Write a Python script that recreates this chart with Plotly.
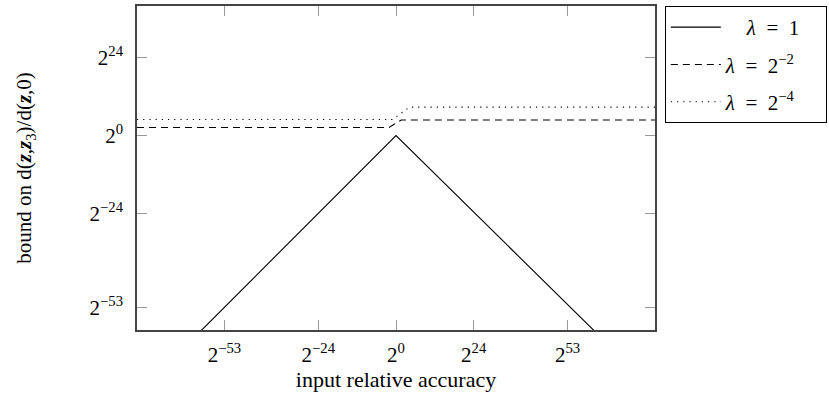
import math
import plotly.graph_objects as go

# ---- data (base-2 exponents) ----
x_lam1 = [-62, 0, 62]
y_lam1 = [-62, 0, -61]

x_lam2 = [-80, -2.2, 1.6, 80]
y_lam2 = [2.5, 2.5, 4.8, 4.8]

x_lam4 = [-80, -1.1, 4.2, 80]
y_lam4 = [4.95, 4.95, 8.8, 8.8]

tick_exps = [-53, -24, 0, 24, 53]
ytick_exps = [-53, -24, 0, 24]

SP = "\u2002"
PAD = "\u00a0" * 4
names = ["\u2003<i>λ</i>" + SP + "=" + SP + "1" + PAD,
         "<i>λ</i>" + SP + "=" + SP + "2<sup>−2</sup>" + PAD,
         "<i>λ</i>" + SP + "=" + SP + "2<sup>−4</sup>" + PAD]

def p2(lst):
    return [2.0 ** e for e in lst]

def lbl(e):
    return "2<sup>%s</sup>" % (str(e).replace("-", "−"))

FONT = "Liberation Serif"
fig = go.Figure()
fig.add_trace(go.Scatter(x=p2(x_lam1), y=p2(y_lam1), mode="lines", name=names[0],
                         legendgroup="a", line=dict(color="black", width=1.1)))
fig.add_trace(go.Scatter(x=p2(x_lam2), y=p2(y_lam2), mode="lines", name=names[1],
                         legendgroup="b", line=dict(color="black", width=1.1, dash="7px,5px")))
fig.add_trace(go.Scatter(x=p2(x_lam4), y=p2(y_lam4), mode="lines", name=names[2],
                         legendgroup="c", line=dict(color="black", width=1.1, dash="1.2px,5px")))

l2 = math.log10(2)
axis_common = dict(
    type="log", showgrid=False, zeroline=False,
    showline=True, linecolor="#444", linewidth=1.5, mirror="ticks",
    ticks="inside", ticklen=10, tickwidth=1, tickcolor="#999",
    tickfont=dict(family=FONT, size=21, color="black"),
)
fig.update_xaxes(**axis_common, range=[-80 * l2, 80 * l2],
                 tickvals=p2(tick_exps), ticktext=[lbl(e) for e in tick_exps],
                 ticklabelstandoff=5,
                 title=dict(text="input relative accuracy", font=dict(family=FONT, size=22, color="black"),
                            standoff=6))
fig.update_yaxes(**axis_common, range=[-60 * l2, 40 * l2],
                 tickvals=p2(ytick_exps), ticktext=[lbl(e) for e in ytick_exps],
                 ticklabelstandoff=8,
                 title=dict(text="bound on d(<b><i>z</i></b>,<b><i>z</i></b><sub>3</sub>)/d(<b><i>z</i></b>,0)",
                            font=dict(family=FONT, size=21, color="black"), standoff=52))

fig.update_layout(
    width=829, height=401,
    margin=dict(l=137, r=174, t=6, b=71, autoexpand=False),
    paper_bgcolor="white", plot_bgcolor="white",
    showlegend=True,
    legend=dict(x=1.019, y=1, xanchor="left", yanchor="top",
                bordercolor="black", borderwidth=1, bgcolor="white",
                font=dict(family=FONT, size=21, color="black"),
                tracegroupgap=7, itemwidth=50),
)
fig.write_html("out.html", config={"displayModeBar": False},
               post_script="document.body.style.margin='0px';")
